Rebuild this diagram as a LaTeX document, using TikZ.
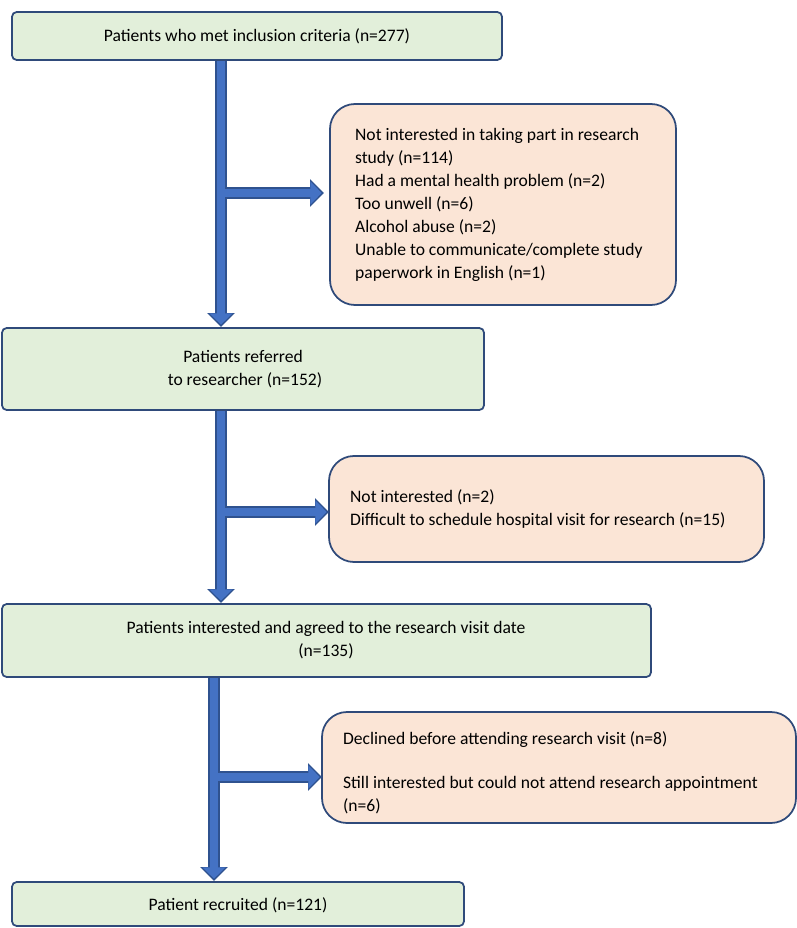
\documentclass[tikz,border=0pt]{standalone}
\usepackage{fontspec}
\setmainfont{Carlito}
\usetikzlibrary{arrows.meta}
\definecolor{gfill}{HTML}{E2EFDA}
\definecolor{ofill}{HTML}{FBE5D6}
\definecolor{bord}{HTML}{2F4A7A}
\definecolor{ablue}{HTML}{4472C4}
\definecolor{adark}{HTML}{2F528F}
\begin{document}
\begin{tikzpicture}[x=0.03cm,y=-0.03cm,
  txt/.style={font=\fontsize{15}{19.6}\selectfont},
  gbox/.style={draw=bord,line width=1.5pt,fill=gfill,rounded corners=4pt},
  obox/.style={draw=bord,line width=1.5pt,fill=ofill,rounded corners=0.75cm},
  barO/.style={draw=adark,line width=0.34cm,-{Triangle[length=0.42cm,width=0.8cm]}},
  barI/.style={draw=ablue,line width=0.24cm,-{Triangle[length=0.34cm,width=0.68cm]}}]
\useasboundingbox (0,0) rectangle (797,928);
\draw[gbox] (12,12) rectangle (502,60);
\node[txt] (b1) at (257,36) {Patients who met inclusion criteria (n=277)};
\draw[obox] (330,104) rectangle (676,305);
\node[txt,anchor=north west,align=left] (b2) at (351,124) {Not interested in taking part in research\\study (n=114)\\Had a mental health problem (n=2)\\Too unwell (n=6)\\Alcohol abuse (n=2)\\Unable to communicate/complete study\\paperwork in English (n=1)};
\draw[gbox] (2,328) rectangle (484,410);
\node[txt,align=center] (b3) at (243,369) {Patients referred\\\ to researcher (n=152)};
\draw[obox] (329,456) rectangle (764,562);
\node[txt,anchor=west,align=left] (b4) at (346,509) {Not interested (n=2)\\Difficult to schedule hospital visit for research (n=15)};
\draw[gbox] (2,604) rectangle (651,677);
\node[txt,align=center] (b5) at (326,640) {Patients interested and agreed to the research visit date\\(n=135)};
\draw[obox] (322,712) rectangle (796,823);
\node[txt,anchor=north west,align=left] (b6) at (339,727) {Declined before attending research visit (n=8)\\[18pt]Still interested but could not attend research appointment\\(n=6)};
\draw[gbox] (12,882) rectangle (464,926);
\node[txt] (b7) at (238,905) {Patient recruited (n=121)};
\coordinate (v1a) at (221,61); \coordinate (v1b) at (221,327);
\coordinate (h1a) at (221,193); \coordinate (h1b) at (324,193);
\coordinate (v2a) at (221,411); \coordinate (v2b) at (221,603);
\coordinate (h2a) at (221,512); \coordinate (h2b) at (329,512);
\coordinate (v3a) at (214,678); \coordinate (v3b) at (214,881);
\coordinate (h3a) at (214,777); \coordinate (h3b) at (322,777);
\foreach \a/\b in {h1a/h1b,h2a/h2b,h3a/h3b,v1a/v1b,v2a/v2b,v3a/v3b}{
  \draw[barO,shorten >=0pt] (\a) -- (\b);
}
\foreach \a/\b in {h1a/h1b,h2a/h2b,h3a/h3b,v1a/v1b,v2a/v2b,v3a/v3b}{
  \draw[barI,shorten >=2pt] (\a) -- (\b);
}
\end{tikzpicture}
\end{document}
